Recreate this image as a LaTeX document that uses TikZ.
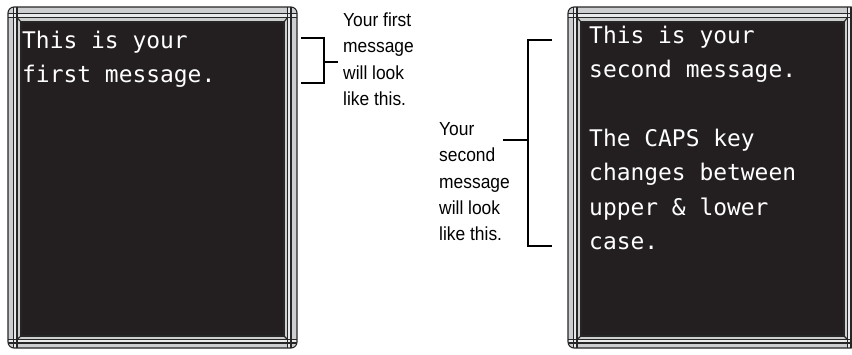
\documentclass[tikz,border=0pt]{standalone}
\usepackage{fontspec}
\setmainfont{Liberation Sans}[FakeStretch=0.92]
\newfontfamily\boardfont{DejaVu Sans Mono}
\usetikzlibrary{positioning}
\definecolor{boardblack}{HTML}{231F20}
\definecolor{framegray}{HTML}{CDCED0}
\definecolor{framelight}{HTML}{E9EAEB}

\begin{document}
\begin{tikzpicture}[x=1bp,y=-1bp,
  boardtext/.style={font=\boardfont\fontsize{23}{34.5}\selectfont,text=white,align=left,inner sep=0pt,anchor=north west},
  sidenote/.style={font=\fontsize{19}{26.5}\selectfont,align=left,inner sep=0pt,anchor=north west},
  bracket/.style={line width=2.6bp},
  rim/.style={line width=1.1bp,draw=black!85}
]
  \useasboundingbox (0,0) rectangle (852,354);
  \clip (0,0) rectangle (852,354);

  % the two boards, the second one runs off the page
  \foreach \dx in {0,560} {
    \begin{scope}[xshift=\dx bp]
      \fill[framegray,rounded corners=6bp] (8,7) rectangle (297,348);
      \begin{scope}
        \clip[rounded corners=6bp] (8,7) rectangle (297,348);
        \fill[framelight] (13.5,7) rectangle (17,348);
        \fill[framelight] (287.5,7) rectangle (291,348);
        \fill[framelight] (8,13.5) rectangle (297,17.5);
        \fill[framelight] (8,339.5) rectangle (297,343);
        \draw[rim] (13.5,7) -- (13.5,348) (17,7) -- (17,348)
                   (287.5,7) -- (287.5,348) (291,7) -- (291,348);
        \draw[rim] (8,13.5) -- (297,13.5) (8,17.5) -- (297,17.5)
                   (8,339.5) -- (297,339.5) (8,343) -- (297,343);
      \end{scope}
      \draw[rim,rounded corners=6bp] (8,7) rectangle (297,348);
      \fill[boardblack] (21,22) rectangle (284,336);
      \draw[rim] (21,22) rectangle (284,336);
      % bevels
      \draw[rim] (17,17.5) -- (21,22) (287.5,17.5) -- (284,22)
                 (17,339.5) -- (21,336) (287.5,339.5) -- (284,336);
    \end{scope}
  }

  \node[boardtext] (msgone) at (22,30.5) {This is your\\first message.};
  \node[boardtext] (msgtwo) at (589,25.5) {This is your\\second message.\\[34.5bp]The CAPS key\\changes between\\upper \& lower\\case.};

  \node[sidenote] (noteone) at (343,12.5) {Your first\\message\\will look\\like this.};
  \node[sidenote] (notetwo) at (439,122) {Your\\second\\message\\will look\\like this.};

  % brackets
  \coordinate (onetop) at (301,38);
  \coordinate (onebot) at (301,83);
  \coordinate (onetip) at (338,62);
  \draw[bracket] (onetop) -- ++(23,0) |- (onebot);
  \draw[bracket] (onetip) -- ++(-14,0);

  \coordinate (twotop) at (552,40);
  \coordinate (twobot) at (552,246);
  \coordinate (twotip) at (503,140);
  \draw[bracket] (twotop) -- ++(-24,0) |- (twobot);
  \draw[bracket] (twotip) -- ++(25,0);
\end{tikzpicture}
\end{document}
